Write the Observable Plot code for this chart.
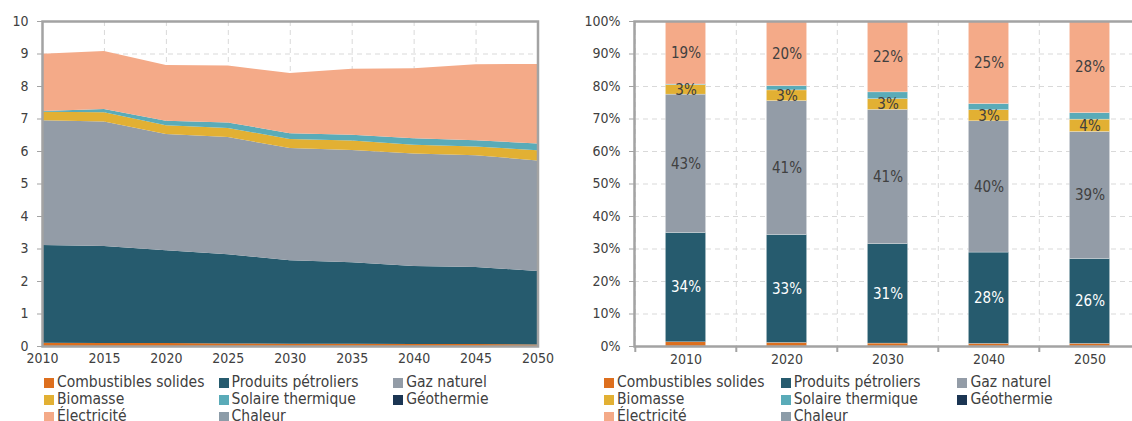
<!DOCTYPE html>
<html>
<head>
<meta charset="utf-8">
<script src="https://cdn.jsdelivr.net/npm/d3@7"></script>
<script src="https://cdn.jsdelivr.net/npm/@observablehq/plot@0.6"></script>
<style>
  body { margin: 0; width: 1132px; height: 421px; overflow: hidden; position: relative; background: #fff;
         font-family: "DejaVu Sans Condensed", "DejaVu Sans", sans-serif; color: #404040; }
  .chart { position: absolute; top: 0; }
  .chart svg { max-width: none !important; }
  .legend { position: absolute; display: grid; font-size: 15.5px; line-height: 17px; color: #404040; }
  .legend .item { display: flex; align-items: center; white-space: nowrap; }
  .legend .sw { width: 10px; height: 10px; margin-right: 3px; flex: none; }
</style>
</head>
<body>
<div id="left" class="chart" style="left:0; width:560px"></div>
<div id="right" class="chart" style="left:560px; width:581px"></div>
<div id="legLeft" class="legend" style="left:44px; top:374px; grid-template-columns: 174.6px 174.6px 174.6px;"></div>
<div id="legRight" class="legend" style="left:604px; top:374px; grid-template-columns: 176.7px 176.7px 176.7px;"></div>
<script>
// ---- Data ----
const categories = ["Combustibles solides", "Produits pétroliers", "Gaz naturel", "Biomasse",
                    "Solaire thermique", "Géothermie", "Électricité", "Chaleur"];
const colors = ["#dd6f1e", "#265b6e", "#939ca7", "#e2b033", "#5aabb8", "#1b3553", "#f4aa88", "#8c9ca8"];

// Left chart: final consumption by energy (values)
const yearsLeft = [2010, 2015, 2020, 2025, 2030, 2035, 2040, 2045, 2050];
const solidesL  = [0.10, 0.09, 0.09, 0.08, 0.07, 0.07, 0.06, 0.06, 0.05];
const petroleL  = [3.01, 2.99, 2.86, 2.74, 2.57, 2.51, 2.40, 2.37, 2.26];
const gazL      = [3.84, 3.83, 3.57, 3.61, 3.45, 3.45, 3.46, 3.44, 3.40];
const biomasseL = [0.26, 0.28, 0.27, 0.28, 0.28, 0.29, 0.27, 0.27, 0.31];
const solaireL  = [0.02, 0.10, 0.14, 0.17, 0.18, 0.18, 0.20, 0.19, 0.21];
const geothL    = [0, 0, 0, 0, 0, 0, 0, 0, 0];
const elecL     = [1.76, 1.79, 1.72, 1.75, 1.85, 2.03, 2.16, 2.34, 2.45];
const chaleurL  = [0, 0, 0, 0, 0, 0, 0, 0, 0];
const yTicksLeft = [0, 1, 2, 3, 4, 5, 6, 7, 8, 9, 10];

// Right chart: shares (%)
const yearsRight = [2010, 2020, 2030, 2040, 2050];
const solidesR  = [1.3, 1.1, 0.9, 0.8, 0.8];
const petroleR  = [33.6, 33.2, 30.6, 28.1, 26.1];
const gazR      = [42.6, 41.2, 41.3, 40.4, 39.1];
const biomasseR = [2.9, 3.3, 3.3, 3.4, 3.8];
const solaireR  = [0.2, 1.3, 2.1, 1.9, 2.0];
const geothR    = [0, 0, 0, 0, 0];
const elecR     = [19.4, 19.9, 21.8, 25.4, 28.2];
const chaleurR  = [0, 0, 0, 0, 0];
const yTicksRight = [0, 10, 20, 30, 40, 50, 60, 70, 80, 90, 100];

// ---- Tables ----
const seriesL = [solidesL, petroleL, gazL, biomasseL, solaireL, geothL, elecL, chaleurL];
const seriesR = [solidesR, petroleR, gazR, biomasseR, solaireR, geothR, elecR, chaleurR];
const leftData = categories.flatMap((c, i) => yearsLeft.map((y, j) => ({year: y, cat: c, value: seriesL[i][j]})));
const rightData = categories.flatMap((c, i) => yearsRight.map((y, j) => ({year: y, cat: c, value: seriesR[i][j]})));

const gridColor = "#d9d9d9";
const frameColor = "#a3a3a3";
const textColor = "#404040";
const dash = "5,4";
const colorScale = {domain: categories, range: colors};
const fontFam = '"DejaVu Sans Condensed", "DejaVu Sans", sans-serif';

// ---- Left chart ----
const left = Plot.plot({
  width: 560, height: 368,
  marginLeft: 42, marginRight: 22.5, marginTop: 21, marginBottom: 22,
  style: {fontFamily: fontFam, fontSize: "14px", color: textColor, background: "transparent", overflow: "visible", maxWidth: "none"},
  x: {domain: [2010, 2050], label: null},
  y: {domain: [0, 10], label: null},
  color: colorScale,
  marks: [
    Plot.gridX(yearsLeft, {stroke: gridColor, strokeOpacity: 1, strokeDasharray: dash}),
    Plot.gridY(yTicksLeft, {stroke: gridColor, strokeOpacity: 1, strokeDasharray: dash}),
    Plot.areaY(leftData, Plot.stackY({order: categories}, {x: "year", y: "value", z: "cat", fill: "cat"})),
    Plot.frame({stroke: frameColor, strokeWidth: 2.5}),
    Plot.axisY({ticks: yTicksLeft, tickSize: 5, tickPadding: 9, stroke: frameColor, fill: textColor, fontSize: 14}),
    Plot.axisX({ticks: yearsLeft, tickSize: 0, tickPadding: 7, tickFormat: d => String(d), fill: textColor, fontSize: 14})
  ]
});
document.getElementById("left").append(left);

// ---- Right chart ----
const rWidth = 581, rMarginLeft = 74, rMarginRight = 0;
const step = (rWidth - rMarginLeft - rMarginRight) / yearsRight.length;
const barWidth = 40.6;
const inset = (step - barWidth) / 2;
const showLabel = d => d.value >= 2.5;
const right = Plot.plot({
  width: rWidth, height: 368,
  marginLeft: rMarginLeft, marginRight: rMarginRight, marginTop: 21, marginBottom: 22,
  style: {fontFamily: fontFam, fontSize: "14px", color: textColor, background: "transparent", overflow: "visible", maxWidth: "none"},
  x: {type: "band", domain: yearsRight, padding: 0, label: null},
  y: {domain: [0, 100], label: null},
  color: colorScale,
  marks: [
    Plot.gridY(yTicksRight, {stroke: gridColor, strokeOpacity: 1, strokeDasharray: dash}),
    Plot.ruleX(yearsRight, {x: d => d, dx: -step / 2, stroke: gridColor, strokeDasharray: dash}),
    Plot.barY(rightData, Plot.stackY({order: categories}, {x: "year", y: "value", z: "cat", fill: "cat",
      insetLeft: inset, insetRight: inset, stroke: "white", strokeWidth: 0.5, strokeOpacity: 0.5})),
    Plot.text(rightData, Plot.stackY({order: categories}, {x: "year", y: "value", z: "cat",
      text: d => (showLabel(d) && d.cat === "Produits pétroliers") ? Math.round(d.value) + "%" : "",
      fill: "white", fontSize: 15})),
    Plot.text(rightData, Plot.stackY({order: categories}, {x: "year", y: "value", z: "cat",
      text: d => (showLabel(d) && d.cat !== "Produits pétroliers") ? Math.round(d.value) + "%" : "",
      fill: textColor, fontSize: 15})),
    Plot.frame({stroke: frameColor, strokeWidth: 2.5}),
    Plot.ruleX(yearsRight, {x: d => d, dx: -step / 2, y1: 0, y2: 0, insetBottom: -6, stroke: frameColor, strokeWidth: 2}),
    Plot.axisY({ticks: yTicksRight, tickSize: 5, tickPadding: 9, tickFormat: d => d + "%", stroke: frameColor, fill: textColor, fontSize: 14}),
    Plot.axisX({tickSize: 0, tickPadding: 8, tickFormat: d => String(d), fill: textColor, fontSize: 14})
  ]
});
document.getElementById("right").append(right);

// ---- Legends ----
function legend(id) {
  const el = d3.select("#" + id);
  categories.forEach((c, i) => {
    const item = el.append("div").attr("class", "item");
    item.append("span").attr("class", "sw").style("background", colors[i]);
    item.append("span").text(c);
  });
}
legend("legLeft");
legend("legRight");
</script>
</body>
</html>
